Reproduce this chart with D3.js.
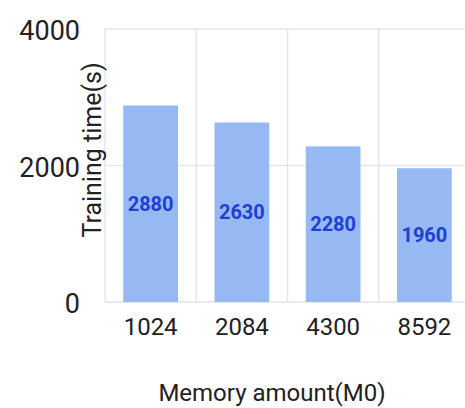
<!DOCTYPE html>
<html>
<head>
<meta charset="utf-8">
<script src="https://cdn.jsdelivr.net/npm/d3@7"></script>
<style>
  html, body { margin: 0; padding: 0; background: #fff; }
  svg { display: block; }
</style>
</head>
<body>
<svg id="chart" width="465" height="408"></svg>
<script>
// Training time per memory setting
const categories = ["1024", "2084", "4300", "8592"];
const trainingTimes = [2880, 2630, 2280, 1960];
const yTicks = [0, 2000, 4000];
const xTitle = "Memory amount(M0)";
const yTitle = "Training time(s)";

const svg = d3.select("#chart");
const font = "Roboto, 'DejaVu Sans', sans-serif";

const plot = { left: 105, right: 470, top: 26, bottom: 302 };

const x = d3.scaleBand()
  .domain(categories)
  .range([plot.left, plot.right])
  .paddingInner(0.4)
  .paddingOuter(0.2);

const y = d3.scaleLinear()
  .domain([0, 4000])
  .range([plot.bottom, plot.top + 3]);

// Gridlines
const grid = svg.append("g");
grid.selectAll("line.h")
  .data(yTicks)
  .join("line")
  .attr("x1", plot.left).attr("x2", 465)
  .attr("y1", d => y(d)).attr("y2", d => y(d))
  .attr("stroke", d => d === 0 ? "#dfe3ea" : "#e6e6e6")
  .attr("stroke-width", 1.5);

const step = x.step();
const boundaries = d3.range(categories.length + 1).map(i => plot.left + i * step);
grid.selectAll("line.v")
  .data(boundaries)
  .join("line")
  .attr("x1", d => d).attr("x2", d => d)
  .attr("y1", y(4000)).attr("y2", plot.bottom)
  .attr("stroke", "#e6e6e6")
  .attr("stroke-width", 1.5);

// Bars
svg.append("g").selectAll("rect")
  .data(trainingTimes)
  .join("rect")
  .attr("x", (d, i) => x(categories[i]))
  .attr("width", x.bandwidth())
  .attr("y", d => y(d))
  .attr("height", d => y(0) - y(d))
  .attr("fill", "#97b9f3");

// Value labels in the middle of each bar
svg.append("g").selectAll("text")
  .data(trainingTimes)
  .join("text")
  .attr("x", (d, i) => x(categories[i]) + x.bandwidth() / 2)
  .attr("y", d => (y(d) + y(0)) / 2)
  .attr("dy", "0.35em")
  .attr("text-anchor", "middle")
  .attr("font-family", font)
  .attr("font-weight", "bold")
  .attr("font-size", 20)
  .attr("fill", "#2040d2")
  .text(d => d);

// Y axis labels
const yAxis = d3.axisLeft(y).tickValues(yTicks).tickSize(0).tickPadding(0).tickFormat(d3.format("d"));
const gy = svg.append("g").attr("transform", "translate(80,2)").call(yAxis);
gy.select(".domain").remove();
gy.selectAll("text")
  .attr("font-family", font)
  .attr("font-size", 27)
  .attr("fill", "#222");

// X axis labels
const xAxis = d3.axisBottom(x).tickSize(0).tickPadding(0);
const gx = svg.append("g").attr("transform", "translate(0,318)").call(xAxis);
gx.select(".domain").remove();
gx.selectAll("text")
  .attr("font-family", font)
  .attr("font-size", 24)
  .attr("fill", "#222");

// Axis titles
svg.append("text")
  .attr("x", 272)
  .attr("y", 401)
  .attr("text-anchor", "middle")
  .attr("font-family", font)
  .attr("font-size", 24)
  .attr("fill", "#222")
  .text(xTitle);

svg.append("text")
  .attr("transform", "translate(101,150) rotate(-90)")
  .attr("text-anchor", "middle")
  .attr("font-family", font)
  .attr("font-size", 25)
  .attr("fill", "#222")
  .text(yTitle);
</script>
</body>
</html>
